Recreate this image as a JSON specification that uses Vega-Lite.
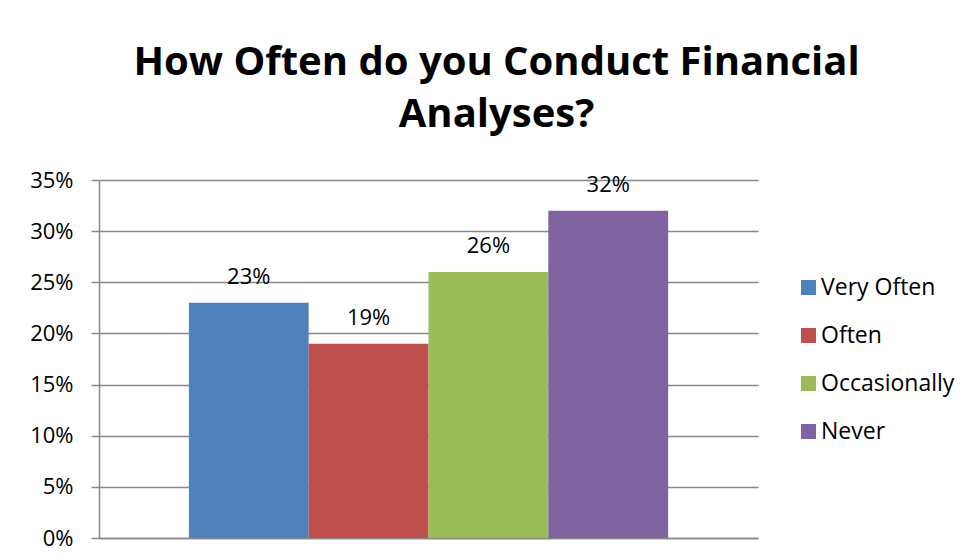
{
  "$schema": "https://vega.github.io/schema/vega-lite/v6.json",
  "autosize": {"type": "none"},
  "width": 659,
  "height": 358,
  "padding": {"left": 99, "top": 180, "right": 211, "bottom": 22},
  "background": "white",
  "title": {
    "text": ["How Often do you Conduct Financial", "Analyses?"],
    "font": "Open Sans",
    "fontSize": 40,
    "fontWeight": "bold",
    "color": "#000000",
    "anchor": "middle",
    "dx": 68,
    "lineHeight": 52,
    "offset": 34
  },
  "data": {
    "values": [
      {"cat": "Very Often", "pct": 0.23},
      {"cat": "Often", "pct": 0.19},
      {"cat": "Occasionally", "pct": 0.26},
      {"cat": "Never", "pct": 0.32}
    ]
  },
  "encoding": {
    "x": {
      "field": "cat",
      "type": "nominal",
      "sort": null,
      "scale": {"paddingInner": 0, "paddingOuter": 0.75},
      "axis": {
        "title": null,
        "labels": false,
        "ticks": false,
        "domain": true,
        "domainColor": "#888888",
        "domainWidth": 1.5,
        "grid": false
      }
    },
    "y": {
      "field": "pct",
      "type": "quantitative",
      "scale": {"domain": [0, 0.35], "nice": false},
      "axis": {
        "title": null,
        "values": [0, 0.05, 0.1, 0.15, 0.2, 0.25, 0.3, 0.35],
        "format": ".0%",
        "labelFont": "Open Sans",
        "labelFontSize": 22,
        "labelColor": "#000000",
        "labelPadding": 18,
        "tickSize": 8,
        "tickColor": "#888888",
        "tickWidth": 1.5,
        "domainColor": "#888888",
        "domainWidth": 1.5,
        "gridColor": "#888888",
        "gridWidth": 1.5,
        "grid": true
      }
    }
  },
  "layer": [
    {
      "mark": {"type": "bar"},
      "encoding": {
        "color": {
          "field": "cat",
          "type": "nominal",
          "sort": null,
          "scale": {
            "domain": ["Very Often", "Often", "Occasionally", "Never"],
            "range": ["#4F81BD", "#C0504D", "#9BBB59", "#8064A2"]
          },
          "legend": {
            "title": null,
            "orient": "none",
            "legendX": 698,
            "legendY": 96,
            "padding": 0,
            "symbolType": "square",
            "symbolSize": 225,
            "symbolStrokeWidth": 0,
            "labelFont": "Open Sans",
            "labelFontSize": 23,
            "labelColor": "#000000",
            "labelOffset": 1,
            "rowPadding": 24
          }
        }
      }
    },
    {
      "mark": {"type": "text", "font": "Open Sans", "fontSize": 22, "color": "#000000", "baseline": "alphabetic", "dy": -19},
      "encoding": {
        "text": {"field": "pct", "type": "quantitative", "format": ".0%"}
      }
    }
  ],
  "config": {
    "view": {"stroke": null}
  }
}
